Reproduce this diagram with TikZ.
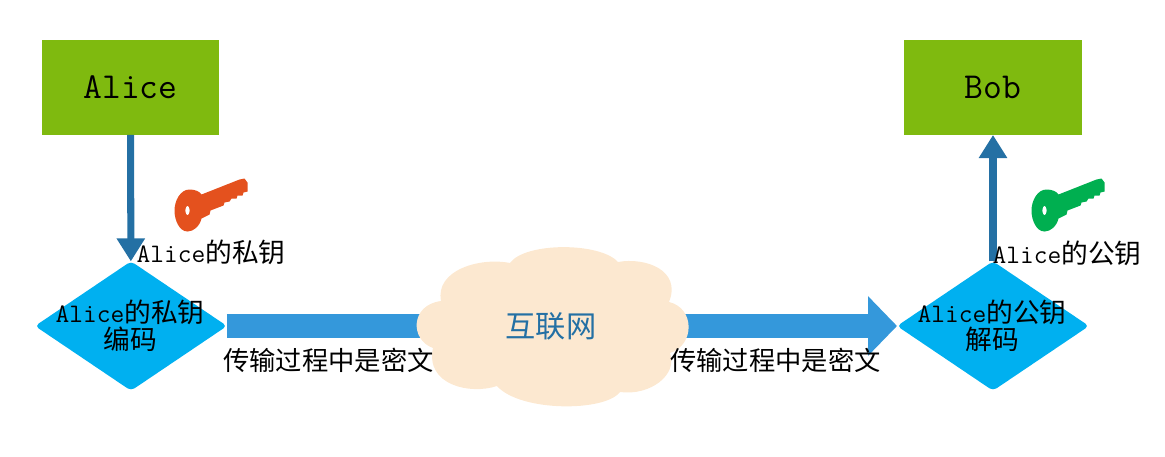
\documentclass[tikz,border=0pt]{standalone}
\usepackage{fontspec}
\newfontfamily\cjk{Noto Sans CJK SC}
\usetikzlibrary{arrows.meta,shapes.geometric}
\definecolor{boxgreen}{HTML}{7FBA0F}
\definecolor{diamondblue}{HTML}{00B0F0}
\definecolor{bararrow}{HTML}{3498DB}
\definecolor{thinarrow}{HTML}{2470A4}
\definecolor{cloudfill}{HTML}{FCE8D0}
\definecolor{keyorange}{HTML}{E4511E}
\definecolor{keygreen}{HTML}{00AF50}
\tikzset{
  personbox/.style={rectangle, fill=boxgreen, minimum width=126.5pt, minimum height=67.5pt, inner sep=0pt, outer sep=0pt, font=\ttfamily\fontsize{26}{30}\selectfont},
  codediamond/.style={diamond, fill=diamondblue, minimum width=136.5pt, minimum height=92pt, inner sep=0pt, outer sep=0pt, rounded corners=3pt},
  smalltext/.style={inner sep=0pt, align=center, font=\ttfamily\fontsize{19}{19.2}\selectfont},
  ciphertext/.style={inner sep=0pt, font=\cjk\fontsize{18.7}{19.2}\selectfont},
  thinarrowline/.style={draw=thinarrow, line width=5pt, -{Triangle[width=19.2pt,length=16.4pt]}},
  bigarrowline/.style={draw=bararrow, line width=17pt},
  keypic/.pic={
    \path[pic actions, even odd rule] (14,-16) -- (52,-31) -- (57,-32) -- (60,-28) -- (60,-19) -- (56,-18)
      -- (55,-15) -- (50,-15) -- (49,-12) -- (44,-12) -- (42,-9) -- (37,-8) -- (36,-5) -- (23,0) -- (22,4) -- (14,8)
      .. controls (12,16) and (6,21) .. (0,21) .. controls (-8,21) and (-13,10) .. (-13,0)
      .. controls (-13,-10) and (-7,-21) .. (2,-21) .. controls (8,-21) and (12,-19) .. cycle
      (0,0) ellipse (2.2 and 4.8);
  }
}
\begin{document}
\begin{tikzpicture}[x=0.025cm, y=-0.025cm]
  \useasboundingbox (0,0) rectangle (1165,456);
  % Boxes and diamonds
  \node[personbox] at (130.5,87.5) (alice) {Alice};
  \node[personbox] at (993,87.5) (bob) {Bob};
  \node[codediamond] at (131,326) (encode) {};
  \node[codediamond] at (993,326) (decode) {};
  \coordinate (netcentre) at (551,326);
  % Lines
  \draw[thinarrowline] (alice) -- (encode);
  \draw[thinarrowline] (decode) -- (bob);
  \draw[bigarrowline] (encode.east) -- (netcentre);
  \draw[bigarrowline, -{Triangle[width=41.2pt,length=20.6pt]}] (netcentre) -- (decode.west);
  % Cloud
  \fill[cloudfill] (510,263) .. controls (525,242) and (600,242) .. (618,262)
    .. controls (645,257) and (682,270) .. (669,302)
    .. controls (695,308) and (695,345) .. (670,353)
    .. controls (678,375) and (650,396) .. (620,392)
    .. controls (605,412) and (520,412) .. (497,386)
    .. controls (470,395) and (425,385) .. (433,348)
    .. controls (410,340) and (410,305) .. (441,301)
    .. controls (435,270) and (480,257) .. cycle;
  \node[text=thinarrow, inner sep=0pt, font=\cjk\fontsize{21.5}{24}\selectfont] at (netcentre) (net) {互联网};
  % Keys
  \pic[fill=keyorange] at (187.5,210.5) {keypic};
  \pic[fill=keygreen] at (1044.5,210.5) {keypic};
  % Labels
  \node[smalltext] at (211,252) (prikey) {Alice{\cjk 的私钥}};
  \node[smalltext] at (1067,253) (pubkey) {Alice{\cjk 的公钥}};
  \node[smalltext] at (130,325.5) (enctext) {Alice{\cjk 的私钥}\\{\cjk 编码}};
  \node[smalltext] at (992,325.5) (dectext) {Alice{\cjk 的公钥}\\{\cjk 解码}};
  \node[ciphertext] at (328.5,360) (cipherl) {传输过程中是密文};
  \node[ciphertext] at (775.5,360) (cipherr) {传输过程中是密文};
\end{tikzpicture}
\end{document}
